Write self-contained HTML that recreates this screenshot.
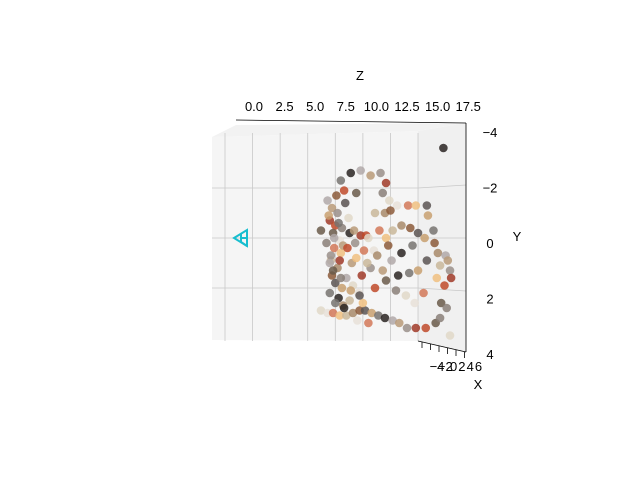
<!DOCTYPE html>
<html><head><meta charset="utf-8"><style>
body{margin:0;background:#fff;}
svg{display:block;font-family:"Liberation Sans",sans-serif;}
</style></head><body>
<svg id="chart" width="640" height="480" viewBox="0 0 640 480">
<g>
<polygon points="212,137 418,131 418,341 212,340" fill="#f5f5f5" stroke="none"/>
<polygon points="418,131 466,123 466,352 418,341" fill="#f0f0f0"/>
<polygon points="212,137 236,125 466,123 418,131" fill="#f2f2f2"/>
</g>
<g id="grid" stroke="#c8c8c8" stroke-width="0.8"></g>
<line x1="236" y1="120" x2="466" y2="123" stroke="#000" stroke-width="0.8"/>
<line x1="466" y1="123" x2="466" y2="352" stroke="#000" stroke-width="0.8"/>
<line x1="418" y1="341" x2="466" y2="352" stroke="#000" stroke-width="0.8"/>
<g id="ticks" font-size="13" fill="#000"></g>
<text x="360" y="80" font-size="13" text-anchor="middle">Z</text>
<text x="517" y="241" font-size="13" text-anchor="middle">Y</text>
<text x="478" y="389" font-size="13" text-anchor="middle">X</text>
<g id="pts"></g>
<g stroke="#17becf" stroke-width="2" fill="none">
<polygon points="234,238 247,230 247,246"/>
<polyline points="241,234 241,242 247,246"/>
<line x1="241" y1="238" x2="247" y2="238"/>
</g>
</svg>
<script>
const zTicks=[0,2.5,5,7.5,10,12.5,15,17.5];
const zTickLabels=["0.0","2.5","5.0","7.5","10.0","12.5","15.0","17.5"];
const yTicks=[-4,-2,0,2,4];
const yTickLabels=["−4","−2","0","2","4"];
const xTickLabels=["−4","−2","0","2","4","6"];
const zVals=[10.5,11.4,12.3,13.2,14.1,14.6,10.8,11.9,14.3,14.9,15.6,16.6,17.3,13.6,14.5,15.0,18.3,18.4,18.9,19.8,
9.3,9.7,10.2,9.5,10.0,9.8,10.6,11.2,10.4,9.9,10.5,9.6,10.2,9.7,10.0,10.6,9.5,10.3,11.0,11.5,11.8,12.3,12.8,8.7,9.2,
13.0,13.5,14.0,14.6,15.2,16.0,16.8,17.5,18.1,17.0,16.0,15.1,14.3,13.2,12.4,13.6,14.6,15.5,16.4,17.2,18.0,19.2,19.5,19.3,19.0,18.3,17.5,16.7,15.7,
20.0,20.2,20.4,20.5,19.9,19.6,20.1,
8.7,9.3,9.8,10.4,11.0,11.6,12.2,12.7,13.3,13.9,14.5,15.2,15.8,16.5,17.3,18.2,19.1,19.5,20.4,12.0,13.0,12.5,11.3,10.7,
10.1,10.9,9.4,10.3,11.3,9.9,10.7,9.6,10.4,11.1,9.8,10.5,11.6,12.1,12.6,11.9,12.9,13.8,14.8,12.2,11.4,10.0,10.8,9.5,11.7];
const yVals=[-2.3,-2.6,-2.7,-2.5,-2.6,-2.2,-1.9,-1.8,-1.8,-1.5,-1.3,-1.3,-1.3,-1.0,-1.0,-1.1,-1.3,-0.9,-0.3,-3.6,
-1.5,-1.2,-1.0,-0.7,-0.5,-0.2,-0.4,-0.8,0.1,0.4,0.6,0.9,1.2,1.5,1.8,2.0,2.2,2.4,1.6,1.0,0.2,-0.1,-0.1,-0.3,0.2,
0.0,0.5,-0.3,0.0,-0.3,-0.5,-0.4,-0.2,0.0,0.3,0.6,0.9,1.3,1.2,1.5,2.0,1.7,2.1,2.3,2.6,2.2,1.6,1.1,0.6,0.2,0.9,1.3,1.4,1.5,
0.7,0.9,1.3,1.6,1.9,2.6,2.8,
2.9,3.0,3.0,3.1,3.1,3.0,2.9,2.9,3.0,3.1,3.2,3.3,3.4,3.6,3.6,3.6,3.4,3.2,3.9,3.3,3.4,2.6,2.5,2.7,
-1.7,-1.4,-0.9,-0.6,-0.2,0.0,0.3,0.7,0.9,0.4,1.3,1.6,1.9,2.2,0.5,0.8,1.0,0.7,0.3,2.3,2.1,2.6,2.8,1.0,-0.3];
const palette=["#777370","#c9b79a","#8a7f78","#b89a78","#5a5452","#d27858","#c04a2a","#2a2422","#a88a6a","#e0d8c8","#9a8f8a","#c8a070","#f0c080","#6a5a4a","#b0a8a8","#8c5a3a","#e8e0d8","#a03a28"];
const X=z=>225+z*11.03, Y=v=>238+v*25;
const NS="http://www.w3.org/2000/svg";
const grid=document.getElementById('grid'),ticks=document.getElementById('ticks'),pts=document.getElementById('pts');
zTicks.forEach((z,i)=>{
 const l=document.createElementNS(NS,'line');
 
 
 l.setAttribute('x1',X(z));l.setAttribute('x2',X(z));l.setAttribute('y1',133);l.setAttribute('y2',341);grid.appendChild(l);
 const t=document.createElementNS(NS,'text');
 
 
 t.setAttribute('x',254+i*30.6);t.setAttribute('y',111);t.setAttribute('text-anchor','middle');t.textContent=zTickLabels[i];ticks.appendChild(t);
});
yTicks.forEach((v,i)=>{
 if(Math.abs(v)<4){const l=document.createElementNS(NS,'line');
 
 
 l.setAttribute('x1',212);l.setAttribute('x2',418);l.setAttribute('y1',Y(v));l.setAttribute('y2',Y(v));grid.appendChild(l);
 const l2=document.createElementNS(NS,'line');
 
 
 l2.setAttribute('x1',418);l2.setAttribute('x2',466);l2.setAttribute('y1',Y(v));l2.setAttribute('y2',Y(v)+v*1.5);grid.appendChild(l2);}
 const t=document.createElementNS(NS,'text');
 
 
 t.setAttribute('x',490);t.setAttribute('y',137+i*55.5);t.setAttribute('text-anchor','middle');t.textContent=yTickLabels[i];ticks.appendChild(t);
});
xTickLabels.forEach((s,i)=>{
 const l=document.createElementNS(NS,'line');
 
 
 const x=422+i*8.5;l.setAttribute('x1',x);l.setAttribute('x2',x);l.setAttribute('y1',342+i*2);l.setAttribute('y2',348+i*2);l.setAttribute('stroke','#000');l.setAttribute('stroke-width','0.8');grid.appendChild(l);
 const t=document.createElementNS(NS,'text');
 
 
 t.setAttribute('x',437+i*8.3);t.setAttribute('y',371);t.setAttribute('text-anchor','middle');t.textContent=s;ticks.appendChild(t);
});
zVals.forEach((z,i)=>{
 const c=document.createElementNS(NS,'circle');
 
 
 c.setAttribute('cx',X(z));c.setAttribute('cy',Y(yVals[i]));c.setAttribute('r',4.3);
 c.setAttribute('fill',palette[(i*7)%palette.length]);c.setAttribute('fill-opacity','0.85');pts.appendChild(c);
});
</script>
</body></html>
